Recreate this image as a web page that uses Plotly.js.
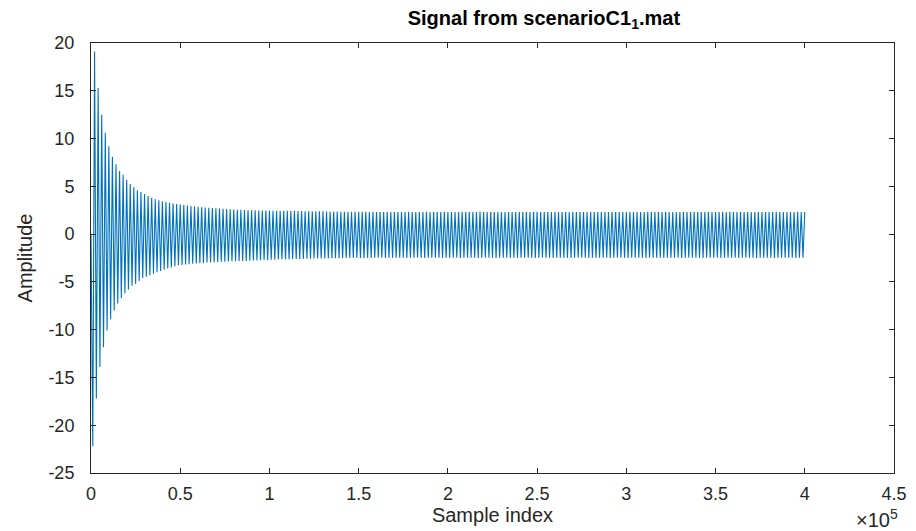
<!DOCTYPE html>
<html>
<head>
<meta charset="utf-8">
<script src="https://cdn.plot.ly/plotly-3.0.1.min.js"></script>
<style>html,body{margin:0;padding:0;background:#fff;}#chart{width:916px;height:531px;}</style>
</head>
<body>
<div id="chart"></div>
<script>
// Sample index of the first point and its value
const startSample = 0;
const startValue = 0;
// Samples per oscillation cycle (read from spike spacing)
const cycleSamples = 2000;

// Positive peak of each cycle (200 cycles)
const peakValues = [
  19.1, 15.3, 12.5, 10.6, 9.2, 8.1, 7.3, 6.6, 6.2, 5.7,
  5.25, 4.9, 4.6, 4.4, 4.2, 4.0, 3.8, 3.65, 3.55, 3.45,
  3.35, 3.28, 3.2, 3.15, 3.1, 3.05, 3.0, 2.95, 2.9, 2.86,
  2.82, 2.78, 2.75, 2.72, 2.7, 2.68, 2.65, 2.63, 2.6, 2.58,
  2.56, 2.54, 2.52, 2.5, 2.5, 2.49, 2.48, 2.47, 2.46, 2.46,
  2.45, 2.44, 2.44, 2.43, 2.43, 2.42, 2.42, 2.41, 2.41, 2.4,
  2.4, 2.39, 2.39, 2.38, 2.38, 2.37, 2.37, 2.36, 2.36, 2.35,
  2.35, 2.34, 2.35, 2.34, 2.33, 2.34, 2.33, 2.32, 2.33, 2.32,
  2.31, 2.32, 2.33, 2.31, 2.32, 2.3, 2.32, 2.31, 2.33, 2.3,
  2.31, 2.32, 2.3, 2.33, 2.31, 2.32, 2.3, 2.31, 2.33, 2.32,
  2.3, 2.32, 2.31, 2.33, 2.3, 2.31, 2.32, 2.3, 2.33, 2.31,
  2.32, 2.3, 2.31, 2.33, 2.32, 2.3, 2.31, 2.32, 2.3, 2.33,
  2.31, 2.32, 2.3, 2.31, 2.33, 2.32, 2.3, 2.32, 2.31, 2.33,
  2.3, 2.31, 2.32, 2.3, 2.33, 2.31, 2.32, 2.3, 2.31, 2.33,
  2.32, 2.3, 2.31, 2.32, 2.3, 2.33, 2.31, 2.32, 2.3, 2.31,
  2.33, 2.32, 2.3, 2.32, 2.31, 2.33, 2.3, 2.31, 2.32, 2.3,
  2.33, 2.31, 2.32, 2.3, 2.31, 2.33, 2.32, 2.3, 2.31, 2.32,
  2.3, 2.33, 2.31, 2.32, 2.3, 2.31, 2.33, 2.32, 2.3, 2.32,
  2.31, 2.33, 2.3, 2.31, 2.32, 2.3, 2.33, 2.31, 2.32, 2.3,
  2.31, 2.33, 2.32, 2.3, 2.31, 2.32, 2.3, 2.33, 2.31, 2.32
];

// Negative trough of each cycle (200 cycles)
const troughValues = [
  -22.2, -17.2, -13.9, -11.85, -10.1, -8.9, -8.0, -7.25, -6.7, -6.2,
  -5.8, -5.4, -5.2, -4.9, -4.6, -4.45, -4.3, -4.15, -4.0, -3.85,
  -3.72, -3.6, -3.48, -3.36, -3.26, -3.22, -3.18, -3.14, -3.1, -3.07,
  -3.04, -3.01, -2.98, -2.96, -2.94, -2.92, -2.9, -2.88, -2.87, -2.85,
  -2.84, -2.82, -2.81, -2.8, -2.78, -2.77, -2.75, -2.74, -2.72, -2.7,
  -2.69, -2.67, -2.65, -2.64, -2.63, -2.62, -2.61, -2.6, -2.6, -2.59,
  -2.58, -2.57, -2.56, -2.56, -2.55, -2.54, -2.54, -2.53, -2.52, -2.52,
  -2.51, -2.5, -2.51, -2.5, -2.49, -2.5, -2.49, -2.48, -2.49, -2.48,
  -2.47, -2.48, -2.49, -2.47, -2.48, -2.46, -2.48, -2.47, -2.49, -2.46,
  -2.47, -2.48, -2.46, -2.49, -2.47, -2.48, -2.46, -2.47, -2.49, -2.48,
  -2.46, -2.48, -2.47, -2.49, -2.46, -2.47, -2.48, -2.46, -2.49, -2.47,
  -2.48, -2.46, -2.47, -2.49, -2.48, -2.46, -2.47, -2.48, -2.46, -2.49,
  -2.47, -2.48, -2.46, -2.47, -2.49, -2.48, -2.46, -2.48, -2.47, -2.49,
  -2.46, -2.47, -2.48, -2.46, -2.49, -2.47, -2.48, -2.46, -2.47, -2.49,
  -2.48, -2.46, -2.47, -2.48, -2.46, -2.49, -2.47, -2.48, -2.46, -2.47,
  -2.49, -2.48, -2.46, -2.48, -2.47, -2.49, -2.46, -2.47, -2.48, -2.46,
  -2.49, -2.47, -2.48, -2.46, -2.47, -2.49, -2.48, -2.46, -2.47, -2.48,
  -2.46, -2.49, -2.47, -2.48, -2.46, -2.47, -2.49, -2.48, -2.46, -2.48,
  -2.47, -2.49, -2.46, -2.47, -2.48, -2.46, -2.49, -2.47, -2.48, -2.46,
  -2.47, -2.49, -2.48, -2.46, -2.47, -2.48, -2.46, -2.49, -2.47, -2.48
];

// Axis tick values and labels
const xTickVals = [0, 50000, 100000, 150000, 200000, 250000, 300000, 350000, 400000, 450000];
const xTickText = ['0', '0.5', '1', '1.5', '2', '2.5', '3', '3.5', '4', '4.5'];
const yTickVals = [-25, -20, -15, -10, -5, 0, 5, 10, 15, 20];
const yTickText = ['-25', '-20', '-15', '-10', '-5', '0', '5', '10', '15', '20'];

// Build the polyline: start, then trough and peak of each cycle
const xs = [startSample];
const ys = [startValue];
for (let k = 0; k < peakValues.length; k++) {
  xs.push(startSample + k * cycleSamples + cycleSamples / 2);
  ys.push(troughValues[k]);
  xs.push(startSample + (k + 1) * cycleSamples);
  ys.push(peakValues[k]);
}

const fontFam = '"Liberation Sans", Arial, Helvetica, sans-serif';
const axColor = '#262626';

const trace = {
  x: xs, y: ys, type: 'scatter', mode: 'lines',
  line: {color: '#0072BD', width: 1.1},
  hoverinfo: 'skip'
};

const layout = {
  width: 916, height: 531,
  margin: {l: 91, r: 22, t: 43, b: 58, pad: 0},
  paper_bgcolor: '#ffffff', plot_bgcolor: '#ffffff',
  showlegend: false,
  font: {family: fontFam, color: axColor, size: 18},
  title: {
    text: '<b>Signal from scenarioC1<sub>1</sub>.mat</b>',
    font: {family: fontFam, size: 20, color: '#000000'},
    x: 0.564, xref: 'paper', xanchor: 'center',
    y: 0.966, yref: 'container', yanchor: 'middle'
  },
  xaxis: {
    range: [0, 450000],
    tickmode: 'array', tickvals: xTickVals, ticktext: xTickText,
    ticks: 'inside', ticklen: 5, tickwidth: 1, tickcolor: axColor,
    showline: true, linecolor: axColor, linewidth: 1, mirror: 'ticks',
    showgrid: false, zeroline: false,
    tickfont: {family: fontFam, size: 18, color: axColor},
    ticklabelstandoff: 4,
    title: {text: 'Sample index', font: {family: fontFam, size: 20, color: axColor}, standoff: 4},
    automargin: false
  },
  yaxis: {
    range: [-25, 20],
    tickmode: 'array', tickvals: yTickVals, ticktext: yTickText,
    ticks: 'inside', ticklen: 5, tickwidth: 1, tickcolor: axColor,
    showline: true, linecolor: axColor, linewidth: 1, mirror: 'ticks',
    showgrid: false, zeroline: false,
    tickfont: {family: fontFam, size: 18, color: axColor},
    ticklabelstandoff: 12,
    title: {text: 'Amplitude', font: {family: fontFam, size: 20, color: axColor}, standoff: 10},
    automargin: false
  },
  annotations: [{
    text: '×10<sup>5</sup>',
    xref: 'paper', yref: 'paper', x: 1.008, y: -0.105,
    xanchor: 'right', yanchor: 'middle', showarrow: false,
    font: {family: fontFam, size: 20, color: axColor}
  }]
};

Plotly.newPlot('chart', [trace], layout, {displayModeBar: false, staticPlot: true});
</script>
</body>
</html>
